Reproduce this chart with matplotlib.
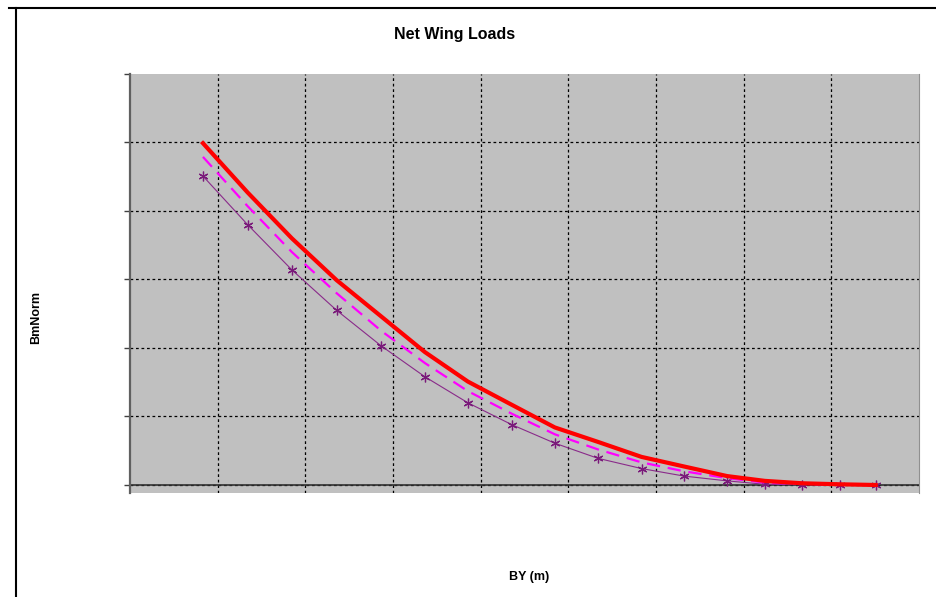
import matplotlib
matplotlib.use('Agg')
import matplotlib.pyplot as plt
from matplotlib.lines import Line2D

plt.rcParams['font.family'] = ['Liberation Sans', 'DejaVu Sans']

# spanwise stations and normalised bending moment for three load cases
by = [0.832, 1.342, 1.847, 2.357, 2.866, 3.364, 3.854, 4.356, 4.846,
      5.336, 5.835, 6.320, 6.811, 7.241, 7.666, 8.096, 8.506]
bm_red = [4.99, 4.27, 3.60, 2.99, 2.46, 1.94, 1.51, 1.17, 0.84,
          0.63, 0.41, 0.27, 0.13, 0.06, 0.025, 0.01, 0.0]
bm_magenta = [4.79, 4.07, 3.40, 2.80, 2.25, 1.78, 1.37, 1.04, 0.74,
              0.52, 0.33, 0.20, 0.10, 0.035, 0.015, 0.005, 0.0]
bm_purple = [4.51, 3.80, 3.14, 2.55, 2.03, 1.58, 1.20, 0.88, 0.61,
             0.39, 0.24, 0.13, 0.06, 0.01, 0.005, 0.0, 0.0]

fig = plt.figure(figsize=(9.36, 5.97), dpi=100)
ax = fig.add_axes([130/936, 104/597, 789/936, 419/597])
ax.set_facecolor('#c0c0c0')

ax.plot(by, bm_red, color='#ff0000', lw=3.0, solid_joinstyle='round', zorder=4)
ax.plot(by, bm_magenta, color='#ff00ff', lw=1.6, dashes=(6, 3.5), zorder=3)
ax.plot(by, bm_purple, color='#8a2a8a', lw=0.8, marker=(6, 2, 0), ms=7,
        mew=0.9, mec='#7a1a7a', zorder=2)

ax.set_xlim(0, 9)
ax.set_ylim(-0.117, 6)
ax.set_xticks(range(1, 9))
ax.set_yticks(range(0, 6))
ax.set_yticks([6], minor=True)
ax.set_xticklabels([])
ax.set_yticklabels([])
ax.tick_params(axis='x', length=0)
ax.tick_params(axis='y', which='both', direction='out', length=4, width=1,
               color='#404040')
ax.grid(True, which='major', color='black', lw=0.9, linestyle=(0, (2.2, 2.2)))
ax.set_axisbelow(True)
ax.axhline(0, color='#303030', lw=1.2, zorder=1.5)

for s in ['top', 'bottom']:
    ax.spines[s].set_visible(False)
ax.spines['left'].set_color('#606060')
ax.spines['left'].set_linewidth(1.6)
ax.spines['right'].set_color('#909090')
ax.spines['right'].set_linewidth(0.8)

fig.text(455/936, 1 - 35/597, 'Net Wing Loads', ha='center', va='center',
         fontsize=11.5, fontweight='bold')
fig.text(36/936, 1 - 318/597, 'BmNorm', ha='center', va='center',
         rotation=90, fontsize=9, fontweight='bold')
fig.text(529/936, 1 - 577/597, 'BY (m)', ha='center', va='center',
         fontsize=9, fontweight='bold')

# outer chart frame
fig.add_artist(Line2D([9/936, 1], [1 - 8/597, 1 - 8/597], color='black', lw=1.5,
                      transform=fig.transFigure))
fig.add_artist(Line2D([16/936, 16/936], [0, 1 - 8/597], color='black', lw=1.5,
                      transform=fig.transFigure))

fig.savefig('out.png', dpi=100)
